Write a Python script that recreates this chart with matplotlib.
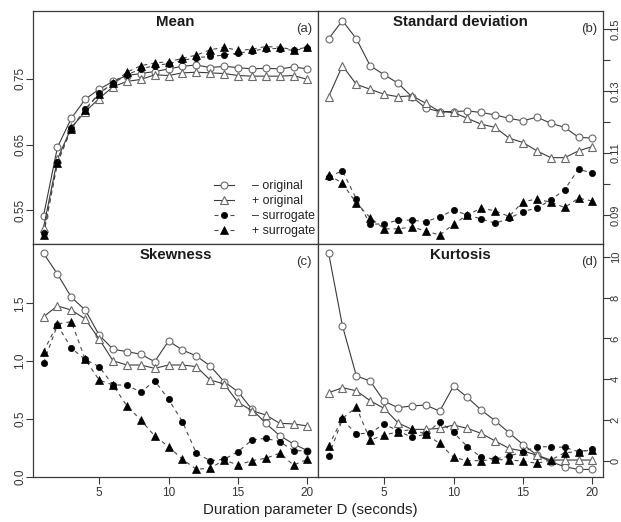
import matplotlib
matplotlib.use("Agg")
import matplotlib.pyplot as plt
from matplotlib.lines import Line2D

plt.rcParams['font.family'] = ['Liberation Sans', 'DejaVu Sans']

D = list(range(1, 21))

# Panel (a) Mean
mean_orig_minus = [0.542, 0.646, 0.690, 0.719, 0.734, 0.746, 0.755, 0.758, 0.761, 0.765,
                   0.769, 0.771, 0.767, 0.769, 0.767, 0.765, 0.766, 0.765, 0.768, 0.765]
mean_orig_plus = [0.524, 0.628, 0.676, 0.700, 0.720, 0.738, 0.746, 0.749, 0.756, 0.755,
                  0.759, 0.760, 0.759, 0.758, 0.755, 0.754, 0.754, 0.754, 0.755, 0.749]
mean_surr_minus = [0.515, 0.624, 0.675, 0.704, 0.728, 0.743, 0.756, 0.765, 0.770, 0.773,
                   0.778, 0.782, 0.784, 0.786, 0.789, 0.792, 0.796, 0.796, 0.793, 0.797]
mean_surr_plus = [0.513, 0.622, 0.674, 0.703, 0.727, 0.744, 0.760, 0.770, 0.774, 0.776,
                  0.781, 0.786, 0.794, 0.798, 0.793, 0.795, 0.799, 0.798, 0.794, 0.798]

# Panel (b) Standard deviation
sd_orig_minus = [0.1469, 0.1528, 0.1469, 0.1382, 0.1353, 0.1326, 0.1282, 0.1245, 0.1234, 0.1234,
                 0.1236, 0.1231, 0.1223, 0.1212, 0.1204, 0.1216, 0.1196, 0.1183, 0.1151, 0.1148]
sd_orig_plus = [0.1282, 0.1382, 0.1322, 0.1306, 0.1290, 0.1282, 0.1285, 0.1261, 0.1234, 0.1231,
                0.1212, 0.1193, 0.1183, 0.1148, 0.1134, 0.1107, 0.1085, 0.1085, 0.1107, 0.1121]
sd_surr_minus = [0.1024, 0.1042, 0.0952, 0.0870, 0.0871, 0.0883, 0.0883, 0.0878, 0.0894, 0.0915,
                 0.0900, 0.0887, 0.0873, 0.0889, 0.0911, 0.0922, 0.0948, 0.0982, 0.1048, 0.1035]
sd_surr_plus = [0.1030, 0.1002, 0.0938, 0.0891, 0.0855, 0.0855, 0.0861, 0.0848, 0.0835, 0.0870,
                0.0900, 0.0922, 0.0913, 0.0895, 0.0943, 0.0951, 0.0941, 0.0924, 0.0954, 0.0945]

# Panel (c) Skewness
sk_orig_minus = [1.932, 1.753, 1.552, 1.442, 1.226, 1.102, 1.082, 1.059, 0.995, 1.174,
                 1.096, 1.044, 0.958, 0.822, 0.735, 0.583, 0.462, 0.355, 0.283, 0.225]
sk_orig_plus = [1.384, 1.477, 1.442, 1.364, 1.191, 1.003, 0.966, 0.966, 0.937, 0.966,
                0.966, 0.952, 0.836, 0.802, 0.643, 0.571, 0.534, 0.462, 0.456, 0.439]
sk_surr_minus = [0.986, 1.312, 1.111, 1.015, 0.952, 0.793, 0.793, 0.730, 0.830, 0.669,
                 0.476, 0.202, 0.138, 0.150, 0.216, 0.317, 0.332, 0.303, 0.225, 0.222]
sk_surr_plus = [1.082, 1.321, 1.341, 1.015, 0.836, 0.793, 0.612, 0.490, 0.352, 0.260,
                0.150, 0.064, 0.073, 0.144, 0.101, 0.138, 0.159, 0.202, 0.101, 0.150]

# Panel (d) Kurtosis
ku_orig_minus = [10.19, 6.62, 4.17, 3.91, 2.93, 2.61, 2.70, 2.74, 2.44, 3.67,
                 3.11, 2.49, 1.97, 1.38, 0.81, 0.29, -0.03, -0.28, -0.41, -0.41]
ku_orig_plus = [3.34, 3.59, 3.44, 2.95, 2.58, 1.87, 1.55, 1.55, 1.60, 1.76,
                1.60, 1.35, 0.98, 0.62, 0.49, 0.29, 0.05, 0.05, 0.05, 0.05]
ku_surr_minus = [0.24, 2.04, 1.32, 1.38, 1.81, 1.48, 1.16, 1.32, 1.92, 1.40,
                 0.70, 0.18, 0.10, 0.24, 0.46, 0.70, 0.70, 0.67, 0.46, 0.57]
ku_surr_plus = [0.73, 2.09, 2.63, 1.03, 1.27, 1.43, 1.55, 1.32, 0.86, 0.18,
                0.02, 0.02, 0.08, 0.05, 0.00, -0.11, 0.05, 0.41, 0.46, 0.54]

titles = ["Mean", "Standard deviation", "Skewness", "Kurtosis"]
tags = ["(a)", "(b)", "(c)", "(d)"]
legend_labels = ["\u2013 original", "+ original", "\u2013 surrogate", "+ surrogate"]

W, H = 621, 522
fig = plt.figure(figsize=(W / 100, H / 100), dpi=100)

xl, xm, xr = 33, 318, 603
yt, ym, yb = 11, 244, 477


def rect(x0, x1, y0, y1):
    return [x0 / W, 1 - y1 / H, (x1 - x0) / W, (y1 - y0) / H]


axes = [
    fig.add_axes(rect(xl, xm, yt, ym)),
    fig.add_axes(rect(xm, xr, yt, ym)),
    fig.add_axes(rect(xl, xm, ym, yb)),
    fig.add_axes(rect(xm, xr, ym, yb)),
]

data = [
    (mean_orig_minus, mean_orig_plus, mean_surr_minus, mean_surr_plus),
    (sd_orig_minus, sd_orig_plus, sd_surr_minus, sd_surr_plus),
    (sk_orig_minus, sk_orig_plus, sk_surr_minus, sk_surr_plus),
    (ku_orig_minus, ku_orig_plus, ku_surr_minus, ku_surr_plus),
]
ylims = [(0.499, 0.853), (0.0806, 0.1559), (-0.003, 2.013), (-0.78, 10.62)]

line_col = '#3a3a3a'
open_edge = '#6a6a6a'
dash_col = '#4a4a4a'
lw = 0.8
dashes = (3.6, 3.6)

styles = [
    dict(color=line_col, lw=lw, ls='-', marker='o', ms=5.0, mfc='white', mec=open_edge, mew=0.8),
    dict(color=line_col, lw=lw, ls='-', marker='^', ms=5.5, mfc='white', mec=open_edge, mew=0.8),
    dict(color=dash_col, lw=lw, ls=(0, dashes), marker='o', ms=4.5, mfc='black', mec='black', mew=0.5),
    dict(color=dash_col, lw=lw, ls=(0, dashes), marker='^', ms=5.5, mfc='black', mec='black', mew=0.5),
]

for i, ax in enumerate(axes):
    for series, st in zip(data[i], styles):
        ax.plot(D, series, **st)
    ax.set_xlim(0.24, 20.76)
    ax.set_ylim(*ylims[i])
    for sp in ax.spines.values():
        sp.set_color('#3a3a3a')
        sp.set_linewidth(0.9)
    ax.tick_params(direction='out', length=5, width=0.8, color='#3a3a3a',
                   labelsize=8.5, labelcolor='#333333', pad=2)
    ax.text(0.5, 1 - 11 / 233, titles[i], transform=ax.transAxes, ha='center', va='center',
            fontsize=10.8, fontweight='bold', color='#1a1a1a')
    ax.text(1 - 6 / 285, 1 - 18 / 233, tags[i], transform=ax.transAxes, ha='right', va='center',
            fontsize=9.5, color='#333333')
    if i < 2:
        ax.set_xticks([])
    else:
        ax.set_xticks([5, 10, 15, 20])
    if i % 2 == 1:
        ax.yaxis.tick_right()
        ax.tick_params(axis='y', pad=0.5, labelsize=8.0)
    else:
        ax.tick_params(axis='y', pad=0)

# y ticks
axes[0].set_yticks([0.55, 0.65, 0.75])
axes[0].set_yticklabels(['0.55', '0.65', '0.75'], rotation=90, va='center')
axes[1].set_yticks([0.09, 0.10, 0.11, 0.12, 0.13, 0.14, 0.15])
axes[1].set_yticklabels(['0.09', '', '0.11', '', '0.13', '', '0.15'], rotation=90, va='center')
axes[2].set_yticks([0.0, 0.5, 1.0, 1.5])
axes[2].set_yticklabels(['0.0', '0.5', '1.0', '1.5'], rotation=90, va='center')
axes[3].set_yticks([0, 2, 4, 6, 8, 10])
axes[3].set_yticklabels(['0', '2', '4', '6', '8', '10'], rotation=90, va='center')

# legend
handles = [Line2D([], [], **st) for st in styles]
axes[0].legend(handles, legend_labels, loc='upper left',
               bbox_to_anchor=(214 / W, 1 - 180 / H), bbox_transform=fig.transFigure,
               frameon=False, fontsize=8.9, handlelength=1.6, handletextpad=1.5,
               labelspacing=0.25, borderpad=0, borderaxespad=0, labelcolor='#222222')

fig.text(310 / W, 1 - 510 / H, "Duration parameter D (seconds)", ha='center', va='center',
         fontsize=10.8, color='#222222')

fig.savefig("out.png", dpi=100)
